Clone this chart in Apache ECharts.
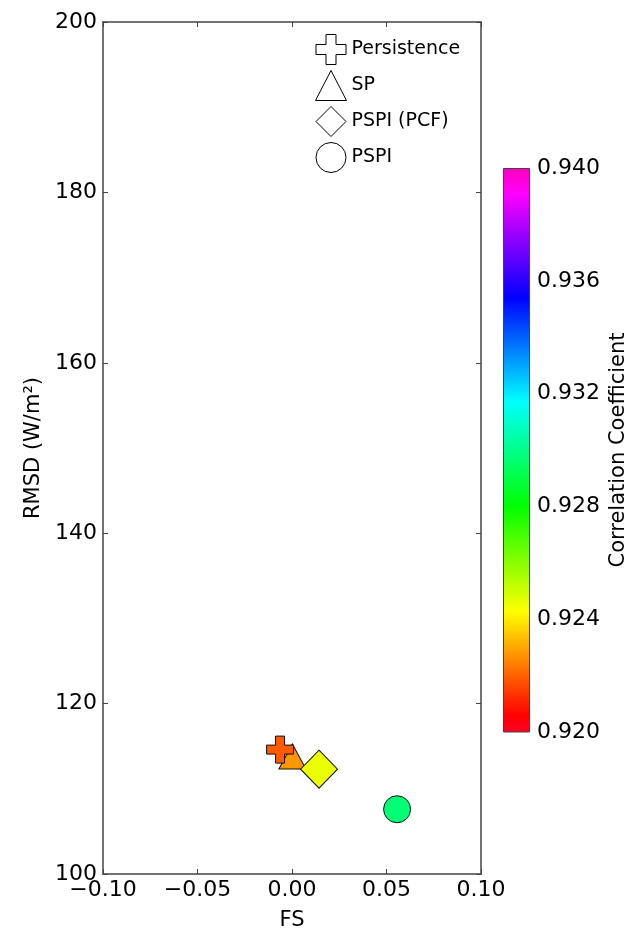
<!DOCTYPE html>
<html>
<head>
<meta charset="utf-8">
<script src="https://cdn.jsdelivr.net/npm/echarts@6/dist/echarts.min.js"></script>
<style>
  html, body { margin: 0; padding: 0; background: #fff; }
  #main { width: 640px; height: 936px; }
</style>
</head>
<body>
<div id="main"></div>
<script>
// data
var methods = ['Persistence', 'SP', 'PSPI (PCF)', 'PSPI'];
var fsValues = [-0.0063, 0.0002, 0.0143, 0.0556];
var rmsdValues = [114.6, 113.8, 112.3, 107.6];
var corrValues = [0.9219, 0.9228, 0.9246, 0.9297];
var corrRange = [0.920, 0.940];

// gist_rainbow colormap stops
var cmapStops = [
    [0, [255, 0, 41]], [0.03, [255, 0, 0]], [0.215, [255, 255, 0]], [0.4, [0, 255, 0]],
    [0.586, [0, 255, 255]], [0.77, [0, 0, 255]], [0.954, [255, 0, 255]], [1, [255, 0, 191]]
];
function cmap(t) {
    for (var i = 1; i < cmapStops.length; i++) {
        if (t <= cmapStops[i][0]) {
            var a = cmapStops[i - 1], b = cmapStops[i];
            var f = (t - a[0]) / (b[0] - a[0]);
            var c = a[1].map(function (v, k) { return Math.round(v + (b[1][k] - v) * f); });
            return 'rgb(' + c.join(',') + ')';
        }
    }
    return 'rgb(' + cmapStops[cmapStops.length - 1][1].join(',') + ')';
}
var mapColors = [];
for (var i = 0; i <= 100; i++) mapColors.push(cmap(i / 100));

var symbols = [
    'path://M1,0 H2 V1 H3 V2 H2 V3 H1 V2 H0 V1 H1 Z',
    'triangle',
    'path://M1,0 L2,1 L1,2 L0,1 Z',
    'circle'
];
var sizes = [[27, 27], [27, 25], [37, 38], [27, 27]];
var zs = [5, 2, 3, 3];

var font = 'DejaVu Sans';
var frame = '#444';

var chart = echarts.init(document.getElementById('main'));

var series = methods.map(function (name, i) {
    return {
        name: name,
        type: 'scatter',
        xAxisIndex: 0,
        yAxisIndex: 0,
        symbol: symbols[i],
        symbolSize: sizes[i],
        z: zs[i],
        itemStyle: { borderColor: '#111', borderWidth: 1, opacity: 1 },
        data: [[fsValues[i], rmsdValues[i], corrValues[i]]]
    };
});

// colorbar as a single bar on its own axis
series.push({
    name: 'colorbar',
    type: 'bar',
    xAxisIndex: 2,
    yAxisIndex: 2,
    barWidth: '100%',
    silent: true,
    itemStyle: {
        color: new echarts.graphic.LinearGradient(0, 1, 0, 0, cmapStops.map(function (s) {
            return { offset: s[0], color: 'rgb(' + s[1].join(',') + ')' };
        })),
        borderColor: frame,
        borderWidth: 1
    },
    data: [corrRange[1]]
});

var option = {
    animation: false,
    textStyle: { fontFamily: font },
    grid: [
        { left: 103, right: 159, top: 22, bottom: 58 },
        { left: 503, width: 27, top: 168, height: 564 }
    ],
    legend: {
        data: methods,
        orient: 'vertical',
        left: 310,
        top: 29,
        itemWidth: 31,
        itemHeight: 30,
        itemGap: 5,
        itemTextGap: 9,
        itemStyle: { color: '#fff', borderColor: '#000', borderWidth: 1 },
        textStyle: { fontFamily: font, fontSize: 19, color: '#000' },
        selectedMode: false
    },
    visualMap: {
        show: false,
        type: 'continuous',
        dimension: 2,
        seriesIndex: [0, 1, 2, 3],
        min: corrRange[0],
        max: corrRange[1],
        inRange: { color: mapColors }
    },
    xAxis: [
        {
            type: 'value', gridIndex: 0, min: -0.1, max: 0.1, interval: 0.05,
            name: 'FS', nameLocation: 'middle', nameGap: 36,
            nameTextStyle: { fontSize: 21, color: '#000', fontFamily: font },
            axisLine: { onZero: false, lineStyle: { color: frame, width: 1.5 } },
            axisTick: { inside: true, length: 5, lineStyle: { color: frame } },
            axisLabel: {
                fontSize: 22, color: '#000', margin: 5, fontFamily: font,
                formatter: function (v) { return (v < 0 ? '\u2212' : '') + Math.abs(v).toFixed(2); }
            },
            splitLine: { show: false }
        },
        {
            type: 'value', gridIndex: 0, position: 'top', min: -0.1, max: 0.1, interval: 0.05,
            axisLine: { onZero: false, lineStyle: { color: frame, width: 1.5 } },
            axisTick: { inside: true, length: 5, lineStyle: { color: frame } },
            axisLabel: { show: false },
            splitLine: { show: false }
        },
        {
            type: 'category', gridIndex: 1, data: ['c'], show: false
        }
    ],
    yAxis: [
        {
            type: 'value', gridIndex: 0, min: 100, max: 200, interval: 20,
            name: 'RMSD (W/m\u00b2)', nameLocation: 'middle', nameGap: 54, nameRotate: 90,
            nameTextStyle: { fontSize: 21, color: '#000', fontFamily: font },
            axisLine: { onZero: false, lineStyle: { color: frame, width: 1.5 } },
            axisTick: { inside: true, length: 5, lineStyle: { color: frame } },
            axisLabel: { fontSize: 22, color: '#000', margin: 6, fontFamily: font },
            splitLine: { show: false }
        },
        {
            type: 'value', gridIndex: 0, position: 'right', min: 100, max: 200, interval: 20,
            axisLine: { onZero: false, lineStyle: { color: frame, width: 1.5 } },
            axisTick: { inside: true, length: 5, lineStyle: { color: frame } },
            axisLabel: { show: false },
            splitLine: { show: false }
        },
        {
            type: 'value', gridIndex: 1, position: 'right', min: corrRange[0], max: corrRange[1], interval: 0.004,
            name: 'Correlation Coefficient', nameLocation: 'middle', nameGap: 78, nameRotate: 90,
            nameTextStyle: { fontSize: 21, color: '#000', fontFamily: font },
            axisLine: { show: false },
            axisTick: { inside: true, length: 5, lineStyle: { color: frame } },
            axisLabel: {
                fontSize: 22, color: '#000', margin: 7, fontFamily: font,
                formatter: function (v) { return v.toFixed(3); }
            },
            splitLine: { show: false }
        }
    ],
    series: series
};
chart.setOption(option);
</script>
</body>
</html>
